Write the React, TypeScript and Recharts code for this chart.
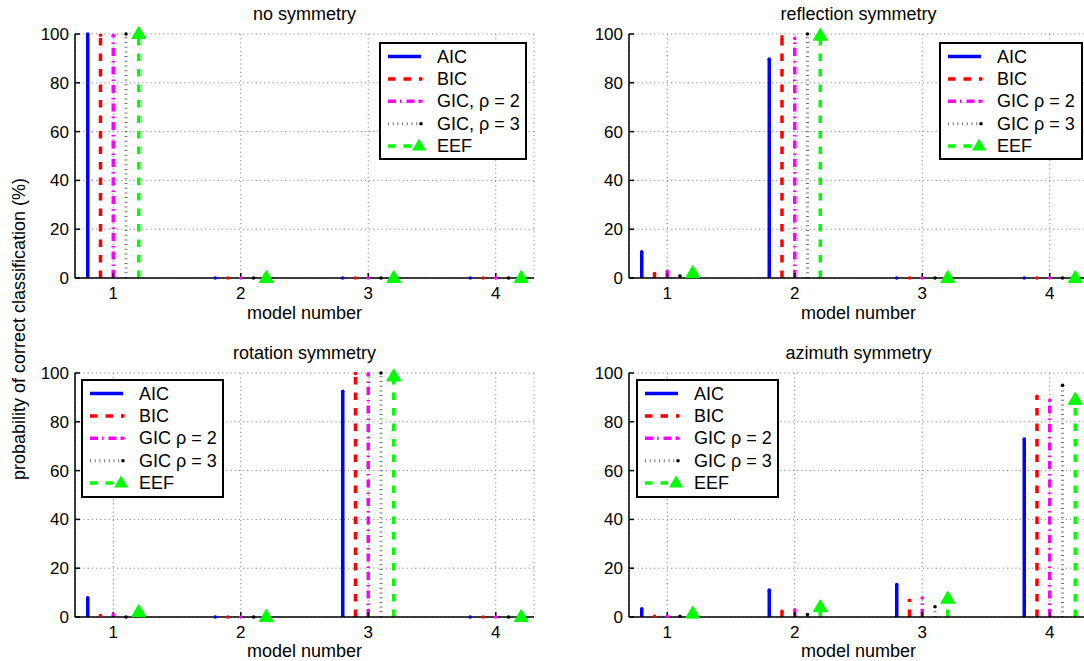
import React from 'react';
import { ComposedChart, XAxis, YAxis, CartesianGrid, Scatter, ReferenceLine, Legend } from 'recharts';

const FONT = '"Liberation Sans", Arial, Helvetica, sans-serif';

const models = [1, 2, 3, 4];
const yTicks = [0, 20, 40, 60, 80, 100];
const namesComma = ['AIC', 'BIC', 'GIC, ρ = 2', 'GIC, ρ = 3', 'EEF'];
const namesPlain = ['AIC', 'BIC', 'GIC ρ = 2', 'GIC ρ = 3', 'EEF'];

// no symmetry
const noAIC = [100, 0, 0, 0];
const noBIC = [99.5, 0, 0, 0];
const noGIC2 = [99.5, 0, 0, 0];
const noGIC3 = [100, 0, 0, 0];
const noEEF = [100, 0, 0, 0];

// reflection symmetry
const reAIC = [10.7, 89.7, 0, 0];
const reBIC = [1.8, 98.9, 0, 0];
const reGIC2 = [2.7, 98.2, 0, 0];
const reGIC3 = [0.8, 100, 0, 0];
const reEEF = [2, 99.3, 0, 0];

// rotation symmetry
const roAIC = [7.9, 0, 92.5, 0];
const roBIC = [0.6, 0, 99.8, 0];
const roGIC2 = [1, 0, 99.7, 0];
const roGIC3 = [0, 0, 100, 0];
const roEEF = [2, 0, 98.6, 0];

// azimuth symmetry
const azAIC = [3.4, 11, 13.3, 72.9];
const azBIC = [0.3, 2.3, 6.8, 90.4];
const azGIC2 = [0.3, 3, 7.8, 88.8];
const azGIC3 = [0.3, 1, 4.2, 95];
const azEEF = [1.4, 4, 7.5, 89];

const styles = [
  { color: '#0000ff', width: 3.5, dash: undefined as string | undefined, shift: -0.2, tri: false, opacity: 1 },
  { color: '#ff0000', width: 3.5, dash: '7.5 8', shift: -0.1, tri: false, opacity: 1 },
  { color: '#ff00ff', width: 3.5, dash: '8 4 1.5 5', shift: 0, tri: false, opacity: 1 },
  { color: '#000000', width: 3, dash: '1 3.7', shift: 0.1, tri: false, opacity: 0.55 },
  { color: '#00ff00', width: 3.5, dash: '7.5 8', shift: 0.2, tri: true, opacity: 1 },
];

function Marker(props: any) {
  const { cx, cy, color, tri } = props;
  if (cx == null || cy == null) return null;
  if (tri) {
    return <polygon points={`${cx},${cy - 7.5} ${cx - 7},${cy + 4.5} ${cx + 7},${cy + 4.5}`} fill={color} stroke={color} />;
  }
  return <circle cx={cx} cy={cy} r={1.8} fill={color} />;
}

function LegendBox({ labels, w, h }: { labels: string[]; w: number; h: number }) {
  return (
    <svg width={w} height={h} style={{ display: 'block' }}>
      <rect x={1} y={1} width={w - 2} height={h - 2} fill="#fff" stroke="#000" strokeWidth={2} />
      {labels.map((name, i) => {
        const s = styles[i];
        const y = 14.5 + i * 22.4;
        return (
          <g key={name}>
            <line x1={9} x2={42} y1={y} y2={y} stroke={s.color} strokeWidth={s.width} strokeDasharray={s.dash} strokeOpacity={s.opacity} />
            {s.tri ? (
              <polygon points={`${40},${y - 7.5} ${33},${y + 4.5} ${47},${y + 4.5}`} fill={s.color} />
            ) : i > 0 ? (
              <circle cx={42} cy={y} r={1.8} fill={s.color} />
            ) : null}
            <text x={58} y={y} dominantBaseline="central" fontSize={18} fontFamily={FONT} fill="#000">{name}</text>
          </g>
        );
      })}
    </svg>
  );
}

type PanelProps = {
  title: string;
  series: number[][];
  labels: string[];
  left: number;
  top: number;
  height: number;
  marginTop: number;
  marginRight: number;
  yAxisWidth: number;
  xAxisHeight: number;
  labelOffset: number;
  legendPos: { left: number; top: number; w: number; h: number };
};

function Panel(p: PanelProps) {
  const width = 545;
  const plotLeft = p.yAxisWidth;
  const plotWidth = width - p.yAxisWidth - p.marginRight;
  return (
    <div style={{ position: 'absolute', left: p.left, top: p.top, width, height: p.height }}>
      <div style={{ position: 'absolute', left: plotLeft, width: plotWidth, top: p.marginTop - 29, fontSize: 18, lineHeight: '18px', textAlign: 'center', fontFamily: FONT, color: '#000' }}>
        {p.title}
      </div>
      <ComposedChart width={width} height={p.height} margin={{ top: p.marginTop, right: p.marginRight, bottom: 0, left: 0 }}>
        <CartesianGrid stroke="#8a8a8a" strokeDasharray="1.2 3" strokeWidth={1} />
        <XAxis
          type="number"
          dataKey="x"
          domain={[0.7, 4.3]}
          ticks={models}
          height={p.xAxisHeight}
          stroke="#000"
          strokeWidth={1.5}
          tickSize={-5}
          tickMargin={13.5}
          tick={{ fontSize: 17, fill: '#000', fontFamily: FONT }}
          label={{ value: 'model number', position: 'insideBottom', offset: p.labelOffset, fontSize: 18, fill: '#000', fontFamily: FONT }}
        />
        <YAxis
          type="number"
          dataKey="y"
          domain={[0, 100]}
          ticks={yTicks}
          width={p.yAxisWidth}
          stroke="#000"
          strokeWidth={1.5}
          tickSize={-5}
          tickMargin={11}
          tick={{ fontSize: 17, fill: '#000', fontFamily: FONT }}
        />
        {p.series.map((vals, si) =>
          vals.map((v, mi) =>
            v > 0 ? (
              <ReferenceLine
                key={`s${si}-${mi}`}
                segment={[{ x: models[mi] + styles[si].shift, y: 0 }, { x: models[mi] + styles[si].shift, y: v }]}
                stroke={styles[si].color}
                strokeWidth={styles[si].width}
                strokeDasharray={styles[si].dash}
                strokeOpacity={styles[si].opacity}
              />
            ) : null
          )
        )}
        {p.series.map((vals, si) => (
          <Scatter
            key={`m${si}`}
            name={p.labels[si]}
            data={vals.map((v, mi) => ({ x: models[mi] + styles[si].shift, y: v }))}
            isAnimationActive={false}
            shape={(props: any) => <Marker {...props} color={styles[si].color} tri={styles[si].tri} />}
          />
        ))}
        <Legend
          layout="vertical"
          align="center"
          verticalAlign="middle"
          wrapperStyle={{ left: p.legendPos.left, top: p.legendPos.top, width: p.legendPos.w, height: p.legendPos.h }}
          content={() => <LegendBox labels={p.labels} w={p.legendPos.w} h={p.legendPos.h} />}
        />
      </ComposedChart>
    </div>
  );
}

export default function App() {
  return (
    <div style={{ position: 'absolute', left: 0, top: 0, width: 1084, height: 661, overflow: 'hidden', background: '#fff', fontFamily: FONT }}>
      <div
        style={{
          position: 'absolute',
          left: 19,
          top: 329,
          transform: 'translate(-50%, -50%) rotate(-90deg)',
          whiteSpace: 'nowrap',
          fontSize: 18,
          fontFamily: FONT,
          color: '#000',
        }}
      >
        probability of correct classification (%)
      </div>
      <Panel
        title="no symmetry"
        series={[noAIC, noBIC, noGIC2, noGIC3, noEEF]}
        labels={namesComma}
        left={0}
        top={0}
        height={330}
        marginTop={34}
        marginRight={11}
        yAxisWidth={75}
        xAxisHeight={52}
        labelOffset={11}
        legendPos={{ left: 379, top: 42, w: 148, h: 118 }}
      />
      <Panel
        title="reflection symmetry"
        series={[reAIC, reBIC, reGIC2, reGIC3, reEEF]}
        labels={namesPlain}
        left={545}
        top={0}
        height={330}
        marginTop={34}
        marginRight={2}
        yAxisWidth={84}
        xAxisHeight={52}
        labelOffset={11}
        legendPos={{ left: 394, top: 42, w: 144, h: 118 }}
      />
      <Panel
        title="rotation symmetry"
        series={[roAIC, roBIC, roGIC2, roGIC3, roEEF]}
        labels={namesPlain}
        left={0}
        top={330}
        height={331}
        marginTop={43}
        marginRight={11}
        yAxisWidth={75}
        xAxisHeight={44}
        labelOffset={4}
        legendPos={{ left: 81, top: 49, w: 143, h: 119 }}
      />
      <Panel
        title="azimuth symmetry"
        series={[azAIC, azBIC, azGIC2, azGIC3, azEEF]}
        labels={namesPlain}
        left={545}
        top={330}
        height={331}
        marginTop={43}
        marginRight={2}
        yAxisWidth={84}
        xAxisHeight={44}
        labelOffset={4}
        legendPos={{ left: 91, top: 49, w: 143, h: 119 }}
      />
    </div>
  );
}
